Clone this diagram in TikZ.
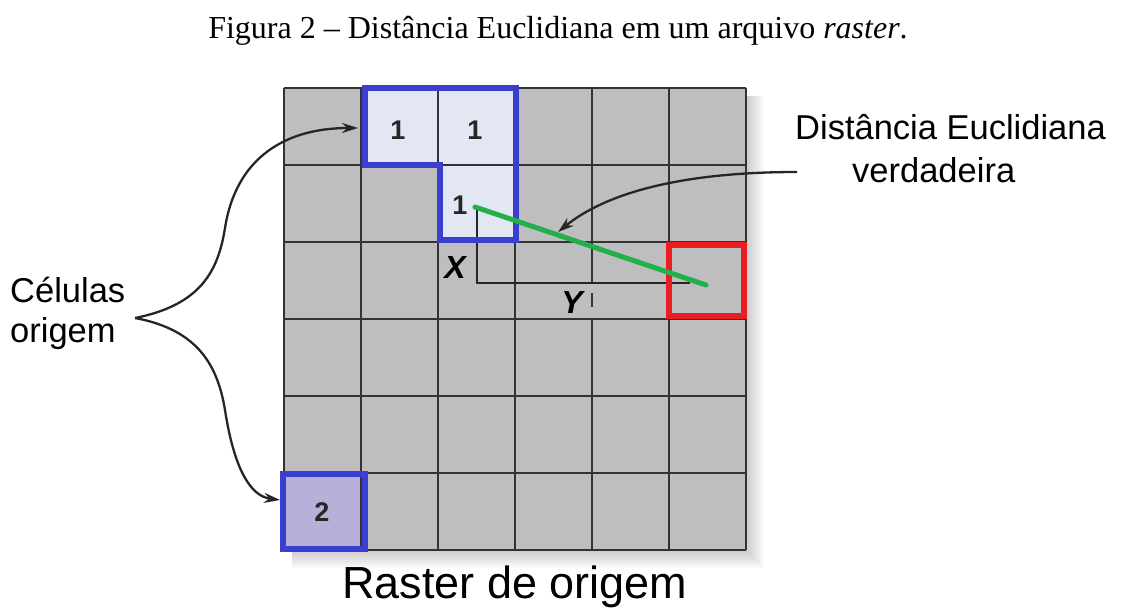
\documentclass[tikz,border=0pt]{standalone}
\usepackage{fontspec}
\setmainfont{Liberation Serif}
\setsansfont{Liberation Sans}
\usetikzlibrary{arrows.meta}
\definecolor{cellgray}{HTML}{BEBEC0}
\definecolor{gridline}{HTML}{333333}
\definecolor{lightcell}{HTML}{E3E7F3}
\definecolor{lavcell}{HTML}{B8B0D8}
\definecolor{bblue}{HTML}{3B3FCF}
\definecolor{rred}{HTML}{EC1C24}
\definecolor{ggreen}{HTML}{22B04B}
\tikzset{
  gridln/.style={draw=gridline, line width=2.5pt},
  outl/.style={line width=6.5pt, line join=miter},
  conn/.style={draw=black!85, line width=2.3pt, -{Stealth[length=16pt,width=10pt]}},
  lbl/.style={font=\sffamily\fontsize{34.5}{40}\selectfont, inner sep=0pt},
  num/.style={font=\sffamily\bfseries\fontsize{27}{30}\selectfont, inner sep=0pt, text=black!85},
  axl/.style={font=\sffamily\bfseries\itshape\fontsize{32}{36}\selectfont, inner sep=0pt},
}
\begin{document}
\begin{tikzpicture}[x=1pt,y=-1pt]
\useasboundingbox (0,0) rectangle (1121,608);
% title
\node[font=\fontsize{32}{36}\selectfont, anchor=base, inner sep=0pt] (title) at (558,38) {Figura 2 -- Distância Euclidiana em um arquivo \textit{raster}.};
% shadow
\foreach \i in {2,4,...,18} \fill[black,opacity=0.022] (292,96) rectangle (746+\i,550+\i);
% cells
\fill[cellgray] (284,88) rectangle (746,550);
\fill[lightcell] (361,88) rectangle (515,165);
\fill[lightcell] (438,165) rectangle (515,242);
\fill[lavcell] (284,473) rectangle (361,550);
% grid lines
\foreach \y in {88,165,242,319,396,473,550} \draw[gridln] (284,\y) -- (746,\y);
\foreach \x in {284,361,438,515,669,746} \draw[gridln] (\x,88) -- (\x,550);
\draw[gridln] (592,88) -- (592,283);
\draw[gridln] (592,293) -- (592,307);
\draw[gridln] (592,319) -- (592,550);
% X / Y legs
\coordinate (pa) at (477,207);
\coordinate (pc) at (477,283);
\coordinate (pd) at (690,283);
\draw[black!85, line width=1.6pt] (pa) -- (pc) -- (pd);
% outlines
\draw[outl, draw=bblue] (365,88) -- (516,88) -- (516,240) -- (440,240) -- (440,165) -- (365,165) -- cycle;
\draw[outl, draw=bblue] (283,474) rectangle (365,549);
\draw[outl, draw=rred] (669,245) rectangle (744,316);
% green line
\coordinate (gs) at (475,207);
\coordinate (ge) at (706,285);
\draw[ggreen, line width=5pt, line cap=round] (gs) -- (ge);
% numbers
\node[num] (n1) at (398,130) {1};
\node[num] (n2) at (475,130) {1};
\node[num] (n3) at (460,205) {1};
\node[num] (n4) at (322,512) {2};
\node[axl] (lx) at (455,267) {X};
\node[axl] (ly) at (572,302) {Y};
% labels
\node[lbl, anchor=base west] (cel) at (10,302) {Células};
\node[lbl, anchor=base west] (ori) at (10,342) {origem};
\node[lbl, anchor=base west] (dist) at (795,139) {Distância Euclidiana};
\node[lbl, anchor=base west] (verd) at (852,182) {verdadeira};
\node[font=\sffamily\fontsize{45}{50}\selectfont, anchor=base west, inner sep=0pt] (rast) at (342,598) {Raster de origem};
% connectors
\coordinate (tip) at (135,318);
\coordinate (t1) at (358,128);
\coordinate (t2) at (280,500);
\coordinate (rs) at (797,172);
\coordinate (rt) at (558,232);
\draw[conn] (tip) .. controls (200,305) and (218,272) .. (225,228) .. controls (236,158) and (285,128) .. (t1);
\draw[conn] (tip) .. controls (200,330) and (218,368) .. (225,410) .. controls (234,468) and (250,496) .. (t2);
\draw[conn] (rs) .. controls (690,172) and (610,190) .. (rt);
\end{tikzpicture}
\end{document}
